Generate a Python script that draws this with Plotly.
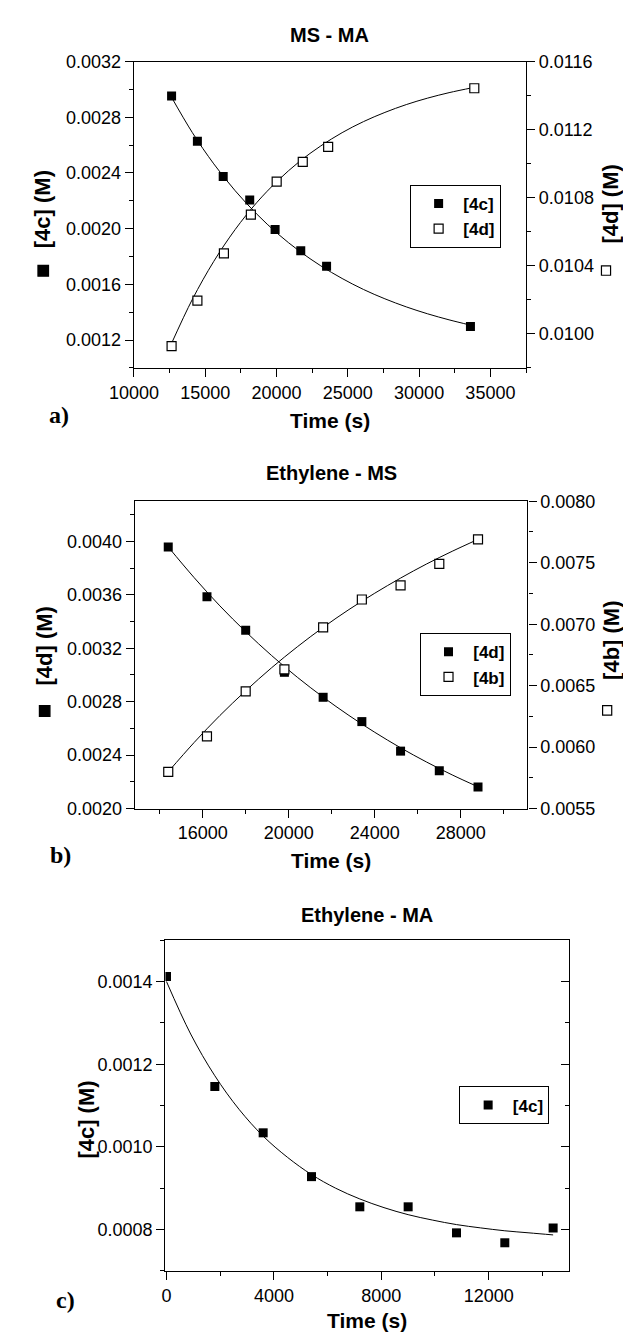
import plotly.graph_objects as go

W, H = 623, 1339


def px(x):
    return x / W


def py(y):
    return 1 - y / H


# ---------------- data ----------------
# Panel a: MS - MA
a_time_4c = [12640, 14450, 16260, 18120, 19900, 21700, 23510, 33600]
a_conc_4c = [0.002952, 0.002627, 0.002374, 0.002206, 0.001994, 0.001841, 0.001730, 0.001298]
a_time_4d = [12640, 14450, 16310, 18200, 20010, 21840, 23620, 33870]
a_conc_4d = [0.009928, 0.010195, 0.010473, 0.010701, 0.010894, 0.011010, 0.011099, 0.011443]
a_fit_time_4c = [12600, 14100, 15600, 17100, 18600, 20100, 21600, 23100, 24600, 26100, 27600, 29100, 30600, 32100, 33600]
a_fit_4c = [0.002950, 0.002689, 0.002465, 0.002272, 0.002106, 0.001962, 0.001839, 0.001733,
            0.001642, 0.001563, 0.001496, 0.001438, 0.001388, 0.001345, 0.001307]
a_fit_time_4d = [12600, 14100, 15600, 17100, 18600, 20100, 21600, 23100, 24600, 26100, 27600, 29100, 30600, 32100, 33800]
a_fit_4d = [0.009937, 0.010203, 0.010426, 0.010613, 0.010770, 0.010901, 0.011012, 0.011104,
            0.011182, 0.011247, 0.011301, 0.011347, 0.011385, 0.011417, 0.011447]

# Panel b: Ethylene - MS
b_time = [14400, 16200, 18000, 19800, 21600, 23400, 25200, 27000, 28800]
b_conc_4d = [0.003958, 0.003585, 0.003334, 0.003020, 0.002833, 0.002651, 0.002430, 0.002283, 0.002162]
b_conc_4b = [0.005799, 0.006088, 0.006454, 0.006632, 0.006974, 0.007201, 0.007316, 0.007490, 0.007690]
b_fit_time = [14400, 15600, 16800, 18000, 19200, 20400, 21600, 22800, 24000, 25200, 26400, 27600, 28800]
b_fit_4d = [0.003958, 0.003729, 0.003517, 0.003324, 0.003146, 0.002983, 0.002834, 0.002697,
            0.002571, 0.002455, 0.002349, 0.002252, 0.002163]
b_fit_4b = [0.005799, 0.006037, 0.006257, 0.006458, 0.006645, 0.006816, 0.006974, 0.007119,
            0.007252, 0.007375, 0.007489, 0.007593, 0.007690]

# Panel c: Ethylene - MA
c_time = [0, 1800, 3600, 5400, 7200, 9000, 10800, 12600, 14400]
c_conc_4c = [0.001412, 0.001146, 0.001034, 0.000928, 0.000855, 0.000855, 0.000792, 0.000768, 0.000804]
c_fit_time = [0, 900, 1800, 2700, 3600, 4500, 5400, 6300, 7200, 8100, 9000, 9900, 10800, 11700, 12600, 13500, 14400]
c_fit_4c = [0.001400, 0.001273, 0.001172, 0.001091, 0.001026, 0.000975, 0.000933, 0.000900, 0.000874,
            0.000853, 0.000836, 0.000823, 0.000812, 0.000804, 0.000797, 0.000792, 0.000787]

SANS = "Liberation Sans, Arial, sans-serif"
SERIF = "Liberation Serif, Times New Roman, serif"

fig = go.Figure()

line_style = dict(color="black", width=1)
filled = dict(symbol="square", size=9, color="black", line=dict(width=0))
opened = dict(symbol="square", size=9, color="white", line=dict(color="black", width=1.2))

# fit lines
fig.add_trace(go.Scatter(x=a_fit_time_4c, y=a_fit_4c, mode="lines", line=line_style, line_shape="spline",
                         showlegend=False, xaxis="x", yaxis="y", hoverinfo="skip"))
fig.add_trace(go.Scatter(x=a_fit_time_4d, y=a_fit_4d, mode="lines", line=line_style, line_shape="spline",
                         showlegend=False, xaxis="x", yaxis="y2", hoverinfo="skip"))
fig.add_trace(go.Scatter(x=b_fit_time, y=b_fit_4d, mode="lines", line=line_style, line_shape="spline",
                         showlegend=False, xaxis="x2", yaxis="y3", hoverinfo="skip"))
fig.add_trace(go.Scatter(x=b_fit_time, y=b_fit_4b, mode="lines", line=line_style, line_shape="spline",
                         showlegend=False, xaxis="x2", yaxis="y4", hoverinfo="skip"))
fig.add_trace(go.Scatter(x=c_fit_time, y=c_fit_4c, mode="lines", line=line_style, line_shape="spline",
                         showlegend=False, xaxis="x3", yaxis="y5", hoverinfo="skip"))
# same fit on the mirrored right-hand axis of panel c (invisible, only to activate that axis)
fig.add_trace(go.Scatter(x=c_fit_time, y=c_fit_4c, mode="lines", line=dict(color="rgba(0,0,0,0)", width=0),
                         showlegend=False, xaxis="x3", yaxis="y6", hoverinfo="skip"))

# markers
fig.add_trace(go.Scatter(x=a_time_4c, y=a_conc_4c, mode="markers", marker=filled, name="\u00a0[4c]",
                         xaxis="x", yaxis="y", legend="legend"))
fig.add_trace(go.Scatter(x=a_time_4d, y=a_conc_4d, mode="markers", marker=opened, name="\u00a0[4d]",
                         xaxis="x", yaxis="y2", legend="legend"))
fig.add_trace(go.Scatter(x=b_time, y=b_conc_4d, mode="markers", marker=filled, name="\u00a0[4d]",
                         xaxis="x2", yaxis="y3", legend="legend2"))
fig.add_trace(go.Scatter(x=b_time, y=b_conc_4b, mode="markers", marker=opened, name="\u00a0[4b]",
                         xaxis="x2", yaxis="y4", legend="legend2"))
fig.add_trace(go.Scatter(x=c_time, y=c_conc_4c, mode="markers", marker=filled, name="\u00a0[4c]",
                         xaxis="x3", yaxis="y5", legend="legend3"))

tickfont = dict(family=SANS, size=18, color="black")


def axis(**kw):
    base = dict(showline=True, linecolor="black", linewidth=1.4, ticks="outside", ticklen=8,
                tickwidth=1.3, tickcolor="black", showgrid=False, zeroline=False, tickfont=tickfont)
    base.update(kw)
    return base


def minor(d, ticks="outside"):
    return dict(dtick=d, ticks=ticks, ticklen=4, tickwidth=1.3, tickcolor="black", showgrid=False)


# panel geometry (pixels)
A = dict(l=113.5, r=522.0, t=52.3, b=363.3)
B = dict(l=114.5, r=523.5, t=498.7, b=810.7)
C = dict(l=146.3, r=567.0, t=944.3, b=1280.0)

fig.update_layout(
    width=W, height=H, autosize=False,
    margin=dict(l=0, r=0, t=0, b=0),
    paper_bgcolor="white", plot_bgcolor="white",
    xaxis=axis(domain=[px(A["l"]), px(A["r"])], range=[10000, 37500], anchor="y", mirror=True,
               tick0=10000, dtick=5000, tickformat="d", minor=minor(2500)),
    yaxis=axis(domain=[py(A["b"]), py(A["t"])], range=[0.0010, 0.0032], anchor="x",
               tick0=0.0012, dtick=0.0004, tickformat=".4f", minor=minor(0.0002)),
    yaxis2=axis(overlaying="y", side="right", anchor="x", range=[0.0098, 0.0116],
                tick0=0.0100, dtick=0.0004, tickformat=".4f", minor=minor(0.0002)),
    xaxis2=axis(domain=[px(B["l"]), px(B["r"])], range=[12850, 31100], anchor="y3", mirror=True,
                tick0=0, dtick=4000, tickformat="d", minor=minor(2000)),
    yaxis3=axis(domain=[py(B["b"]), py(B["t"])], range=[0.0020, 0.0043], anchor="x2",
                tick0=0.0020, dtick=0.0004, tickformat=".4f", minor=minor(0.0002)),
    yaxis4=axis(overlaying="y3", side="right", anchor="x2", range=[0.0055, 0.0080],
                tick0=0.0055, dtick=0.0005, tickformat=".4f", minor=minor(0.00025)),
    xaxis3=axis(domain=[px(C["l"]), px(C["r"])], range=[-40, 15000], anchor="y5", mirror=True,
                tick0=0, dtick=4000, tickformat="d", minor=minor(2000)),
    yaxis5=axis(domain=[py(C["b"]), py(C["t"])], range=[0.0007, 0.0015], anchor="x3",
                tick0=0.0008, dtick=0.0002, tickformat=".4f", minor=minor(0.0001)),
    yaxis6=axis(overlaying="y5", side="right", anchor="x3", range=[0.0007, 0.0015],
                ticks="inside", showticklabels=False, tick0=0.0008, dtick=0.0002,
                minor=minor(0.0001, "inside")),
)

legend_common = dict(xanchor="left", yanchor="top", bgcolor="white", bordercolor="black", borderwidth=1,
                     font=dict(family=SANS, size=17, color="black", weight="bold"),
                     tracegroupgap=0, itemsizing="trace", indentation=8)
fig.update_layout(
    legend=dict(x=px(400.7), y=py(177.7), **legend_common),
    legend2=dict(x=px(411.0), y=py(632.7), **legend_common),
    legend3=dict(x=px(452.3), y=py(1092.7), **legend_common),
)

annotations = []


def text(x, y, s, size, family=SANS, bold=True, angle=0):
    annotations.append(dict(
        x=px(x), y=py(y), xref="paper", yref="paper", text=s, showarrow=False,
        xanchor="center", yanchor="middle", textangle=angle,
        font=dict(family=family, size=size, color="black", weight="bold" if bold else "normal")))


# titles
text((A["l"] + A["r"]) / 2, 25, "MS - MA", 20)
text((B["l"] + B["r"]) / 2, 470.5, "Ethylene - MS", 20)
text((C["l"] + C["r"]) / 2, 919, "Ethylene - MA", 20)
# x titles
text((A["l"] + A["r"]) / 2, 417, "Time (s)", 21)
text((B["l"] + B["r"]) / 2, 863, "Time (s)", 21)
text((C["l"] + C["r"]) / 2, 1330, "Time (s)", 21)
# y titles
text(19, 202, "[4c] (M)", 22, angle=-90)
text(610, 197, "[4d] (M)", 22, angle=-90)
text(20, 646, "[4d] (M)", 22, angle=-90)
text(611, 640, "[4b] (M)", 22, angle=-90)
text(64, 1126, "[4c] (M)", 22, angle=-90)
# panel letters
text(35, 411, "a)", 24, family=SERIF)
text(37.5, 858, "b)", 24, family=SERIF)
text(42, 1310, "c)", 24, family=SERIF)

fig.update_layout(annotations=annotations)

# axis-title legend glyphs
shapes = []


def glyph(cx, cy, size, fill):
    shapes.append(dict(type="rect", xref="paper", yref="paper",
                       x0=px(cx - size / 2), x1=px(cx + size / 2),
                       y0=py(cy + size / 2), y1=py(cy - size / 2),
                       fillcolor=fill, line=dict(color="black", width=1.2)))


glyph(19, 264.7, 11, "black")
glyph(605.3, 264.5, 9.5, "white")
glyph(20.5, 711.7, 11, "black")
glyph(606.5, 711, 9.5, "white")
fig.update_layout(shapes=shapes)

fig.write_html(
    "out.html",
    config={"displayModeBar": False},
    post_script="document.documentElement.style.margin='0';document.body.style.margin='0';"
                "document.body.style.padding='0';",
)
